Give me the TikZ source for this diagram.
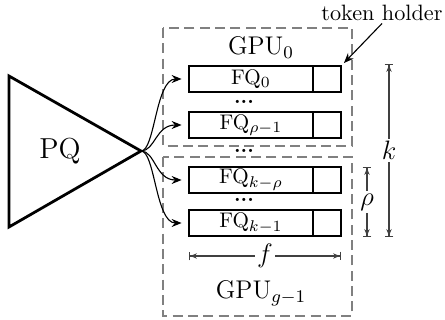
\documentclass[tikz,border=0pt]{standalone}
\usetikzlibrary{arrows.meta}
\begin{document}
\begin{tikzpicture}[x=0.45pt,y=-0.45pt,
  fq/.style={draw, line width=1.25pt, minimum width=55.8pt, minimum height=11.7pt, inner sep=0pt, font=\fontsize{9.5}{10}\selectfont},
  holder/.style={draw, line width=1.25pt, minimum width=12.6pt, minimum height=11.7pt, inner sep=0pt},
  gpubox/.style={draw=gray, line width=0.55pt, dash pattern=on 4.5pt off 2.4pt},
  conn/.style={-{Stealth[length=4.5pt,width=3.6pt,inset=1.5pt]}, line width=0.5pt, shorten >=2.7pt},
  dim/.style={draw=black!75, line width=0.55pt, {Bar[width=4pt]Stealth[length=3pt,width=2.4pt]}-{Stealth[length=3pt,width=2.4pt]Bar[width=4pt]}},
  dimlabel/.style={fill=white, inner sep=1pt, font=\fontsize{12}{14}\selectfont},
  dotsn/.style={font=\small\bfseries, inner sep=0pt},
  gpulabel/.style={font=\fontsize{11.5}{13}\selectfont, inner sep=0pt}
]
\useasboundingbox (0,0) rectangle (445,320);
% PQ triangle
\draw[line width=1.25pt, line join=miter] (9,76) -- (141,151) -- (9,227) -- cycle;
\coordinate (apex) at (141,151);
\node[font=\fontsize{13}{15}\selectfont] (pq) at (60,151) {PQ};
% GPU boxes
\draw[gpubox] (163,28) rectangle (352,146);
\draw[gpubox] (163,157) rectangle (352,316);
\node[gpulabel] (g0) at (261,48) {GPU$_0$};
\node[gpulabel] (g1) at (261,293) {GPU$_{g-1}$};
% queues
\node[fq] (q0) at (251,79) {FQ$_0$};
\node[holder] (h0) at (327,79) {};
\node[fq] (q1) at (251,125) {FQ$_{\rho-1}$};
\node[holder] (h1) at (327,125) {};
\node[fq] (q2) at (251,180) {FQ$_{k-\rho}$};
\node[holder] (h2) at (327,180) {};
\node[fq] (q3) at (251,223) {FQ$_{k-1}$};
\node[holder] (h3) at (327,223) {};
% dots
\node[dotsn] (d0) at (244,102) {...};
\node[dotsn] (d1) at (244,151) {...};
\node[dotsn] (d2) at (244,200) {...};
% connectors
\foreach \q in {q0,q1,q2,q3}
  \draw[conn] (apex) .. controls +(14,0) and +(-32,0) .. (\q.west);
% token holder
\node[font=\normalsize, inner sep=1pt] (th) at (382,13) {token holder};
\draw[-{Stealth[length=4.5pt,width=3.6pt,inset=1.5pt]}, line width=0.5pt, shorten >=1pt] (th.south) -- (h0.north east);
% dimensions
\coordinate (fa) at (189,256);
\coordinate (fb) at (341,256);
\draw[dim] (fa) -- (fb) node[dimlabel, midway] (fl) {$f$};
\coordinate (ra) at (367,167);
\coordinate (rb) at (367,237);
\draw[dim] (ra) -- (rb) node[dimlabel, midway] (rl) {$\rho$};
\coordinate (ka) at (389,64);
\coordinate (kb) at (389,237);
\draw[dim] (ka) -- (kb) node[dimlabel, pos=0.5] (kl) {$k$};
\end{tikzpicture}
\end{document}
